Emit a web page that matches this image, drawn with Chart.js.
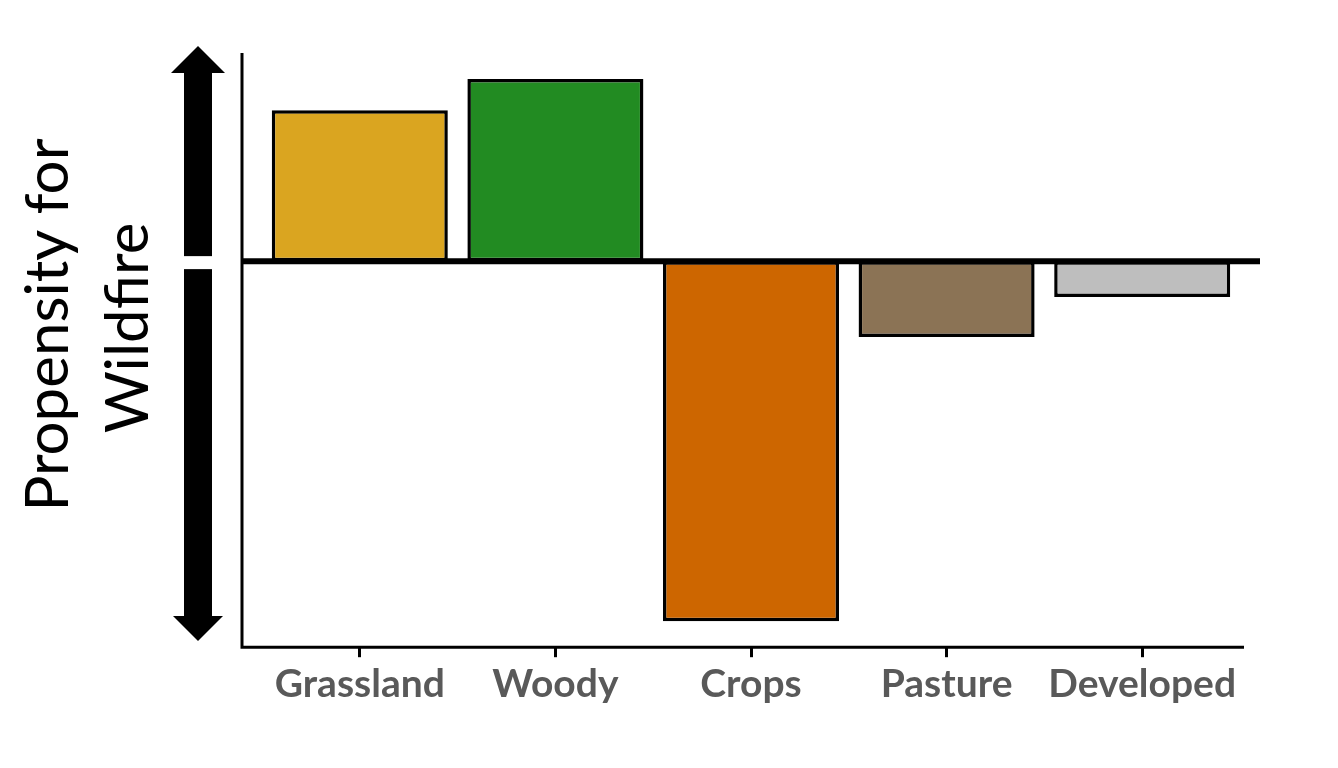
<!DOCTYPE html>
<html>
<head>
<meta charset="utf-8">
<script src="https://cdn.jsdelivr.net/npm/chart.js@4"></script>
<style>
    body { margin: 0; background: #fff; }
</style>
</head>
<body>
<canvas id="wildfireChart" width="1338" height="768"></canvas>
<script>
// categories and relative propensity (arbitrary units, 0 = baseline)
const landCover = ['Grassland', 'Woody', 'Crops', 'Pasture', 'Developed']
const propensity = [2.9, 3.5, -6.92, -1.46, -0.69]
const barColors = ['#DAA520', '#228B22', '#CD6600', '#8B7355', '#BEBEBE']
const titleLines = ['Propensity for', 'Wildfire']

// axes, zero line, arrows and y title drawn by hand
const decorations = {
    id: 'decorations',
    afterDatasetsDraw: function(chart){
        const ctx = chart.ctx
        const area = chart.chartArea
        const zeroY = chart.scales.y.getPixelForValue(0)
        const axisX = area.left - 20

        ctx.save()
        ctx.fillStyle = '#000'
        ctx.strokeStyle = '#000'
        ctx.lineCap = 'butt'

        // y axis + x axis
        ctx.lineWidth = 3
        ctx.beginPath()
        ctx.moveTo(axisX, area.top)
        ctx.lineTo(axisX, area.bottom)
        ctx.lineTo(area.right + 4, area.bottom)
        ctx.stroke()

        // zero line
        ctx.lineWidth = 6
        ctx.beginPath()
        ctx.moveTo(axisX, zeroY)
        ctx.lineTo(area.right + 20, zeroY)
        ctx.stroke()

        // double arrow, split at zero
        const cx = 198
        ctx.fillRect(cx - 14, 73, 28, zeroY - 5 - 73)
        ctx.beginPath()
        ctx.moveTo(cx - 27, 73)
        ctx.lineTo(cx, 46)
        ctx.lineTo(cx + 27, 73)
        ctx.closePath()
        ctx.fill()

        ctx.fillRect(cx - 14, zeroY + 8, 28, 617 - zeroY - 8)
        ctx.beginPath()
        ctx.moveTo(cx - 25, 616)
        ctx.lineTo(cx, 641)
        ctx.lineTo(cx + 25, 616)
        ctx.closePath()
        ctx.fill()

        // y title, rotated
        ctx.font = '60px Lato'
        ctx.textAlign = 'center'
        ctx.textBaseline = 'alphabetic'
        const baseX = [68, 148]
        const midY = [325, 328]
        titleLines.forEach(function(line, i){
            ctx.save()
            ctx.translate(baseX[i], midY[i])
            ctx.rotate(-Math.PI / 2)
            ctx.fillText(line, 0, 0)
            ctx.restore()
        })
        ctx.restore()
    }
}

const data = {
    labels: landCover,
    datasets: [{
        data: propensity,
        backgroundColor: barColors,
        borderColor: '#000',
        borderWidth: 3.5,
        borderSkipped: false,
        categoryPercentage: 1,
        barPercentage: 0.9
    }]
}

const config = {
    type: 'bar',
    data: data,
    options: {
        responsive: false,
        animation: false,
        devicePixelRatio: 1,
        layout: {
            padding: { left: 262, right: 98, top: 53, bottom: 56 }
        },
        plugins: {
            legend: { display: false },
            tooltip: { enabled: false }
        },
        scales: {
            x: {
                border: { display: false },
                grid: {
                    drawOnChartArea: false,
                    offset: false,
                    tickLength: 10,
                    tickWidth: 3,
                    color: '#000'
                },
                ticks: {
                    color: '#595959',
                    padding: 4,
                    font: { family: 'Lato', size: 39, weight: 'bold' }
                }
            },
            y: {
                display: false,
                min: -7.42,
                max: 4
            }
        }
    },
    plugins: [decorations]
}

const wildfireChart = new Chart(document.getElementById('wildfireChart'), config)
</script>
</body>
</html>
